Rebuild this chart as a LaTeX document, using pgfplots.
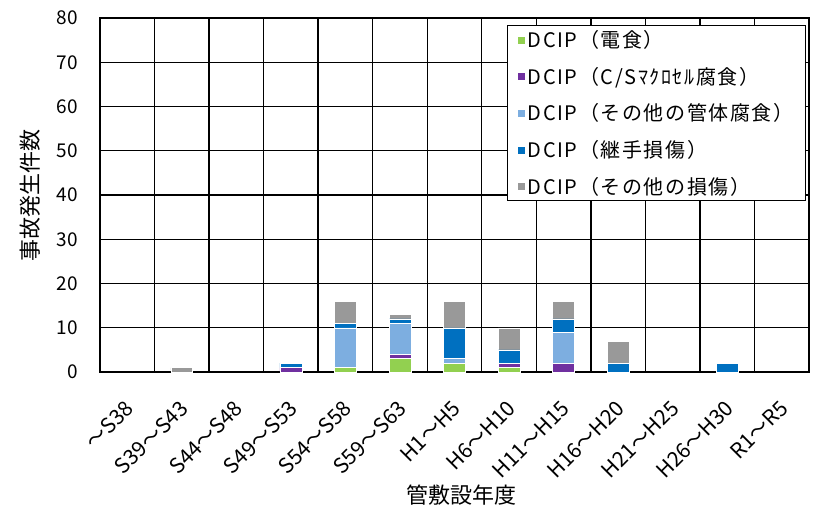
\documentclass[border=0pt]{standalone}
\usepackage{graphicx}
\usepackage{pgfplots}
\pgfplotsset{compat=1.18}
\usepackage{fontspec}
\setmainfont{Noto Sans CJK JP}
\newfontfamily\lsfont[LetterSpace=8]{Noto Sans CJK JP}
\definecolor{cgreen}{HTML}{92D050}
\definecolor{cpurple}{HTML}{7030A0}
\definecolor{clblue}{HTML}{7DAEE0}
\definecolor{cblue}{HTML}{0070C0}
\definecolor{cgray}{HTML}{999999}
\newcommand{\rl}[1]{\rotatebox{45}{#1}}
\begin{document}
\begin{tikzpicture}
\useasboundingbox (-100pt,-140pt) rectangle (721pt,372pt);
\begin{axis}[
  at={(0,0)}, anchor=south west,
  scale only axis,
  width=709pt, height=354pt,
  ybar stacked, bar width=0.4,
  xmin=-0.5, xmax=12.5,
  ymin=0, ymax=80,
  ytick={0,10,...,80},
  xtick={0,...,12},
  xticklabels={\rl{～S38},\rl{S39～S43},\rl{S44～S48},\rl{S49～S53},\rl{S54～S58},\rl{S59～S63},\rl{H1～H5},\rl{H6～H10},\rl{H11～H15},\rl{H16～H20},\rl{H21～H25},\rl{H26～H30},\rl{R1～R5}},
  minor xtick={0.5,1.5,...,11.5},
  xminorgrids, ymajorgrids,
  grid style={black, line width=1.4pt},
  minor grid style={black, line width=1.4pt},
  axis line style={black, line width=1.4pt},
  major tick length=0pt, minor tick length=0pt,
  /pgf/number format/assume math mode=true,
  ticklabel style={font=\fontsize{19}{21}\selectfont},
  yticklabel style={anchor=east, inner sep=0pt, xshift=-22pt},
  xticklabel style={font=\fontsize{21}{23}\selectfont, anchor=north east, inner sep=0pt, xshift=8pt, yshift=-27pt},
  xlabel={管敷設年度}, ylabel={事故発生件数},
  label style={font=\fontsize{22}{24}\selectfont},
  xlabel style={at={(axis description cs:0.51,-0.347)}, anchor=center},
  ylabel style={at={(axis description cs:-0.0987,0.5)}, anchor=center},
  legend style={at={(rel axis cs:0.9958,0.980)}, anchor=north east, draw=black, line width=1pt,
    font=\fontsize{20}{22}\selectfont\lsfont, row sep=14pt, inner xsep=10pt, inner ysep=3pt},
  legend cell align=left,
  legend image code/.code={\fill[#1] (0pt,-4pt) rectangle (8pt,4pt);},
]
\addplot[fill=cgreen, draw=white, line width=0.5pt] coordinates {(0,0) (1,0) (2,0) (3,0) (4,1) (5,3) (6,2) (7,1) (8,0) (9,0) (10,0) (11,0) (12,0)};
\addplot[fill=cpurple, draw=white, line width=0.5pt] coordinates {(0,0) (1,0) (2,0) (3,1) (4,0) (5,1) (6,0) (7,1) (8,2) (9,0) (10,0) (11,0) (12,0)};
\addplot[fill=clblue, draw=white, line width=0.5pt] coordinates {(0,0) (1,0) (2,0) (3,0) (4,9) (5,7) (6,1) (7,0) (8,7) (9,0) (10,0) (11,0) (12,0)};
\addplot[fill=cblue, draw=white, line width=0.5pt] coordinates {(0,0) (1,0) (2,0) (3,1) (4,1) (5,1) (6,7) (7,3) (8,3) (9,2) (10,0) (11,2) (12,0)};
\addplot[fill=cgray, draw=white, line width=0.5pt] coordinates {(0,0) (1,1) (2,0) (3,0) (4,5) (5,1) (6,6) (7,5) (8,4) (9,5) (10,0) (11,0) (12,0)};
\legend{DCIP（電食）,DCIP（C/Sﾏｸﾛｾﾙ腐食）,DCIP（その他の管体腐食）,DCIP（継手損傷）,DCIP（その他の損傷）}
\end{axis}
\end{tikzpicture}
\end{document}
